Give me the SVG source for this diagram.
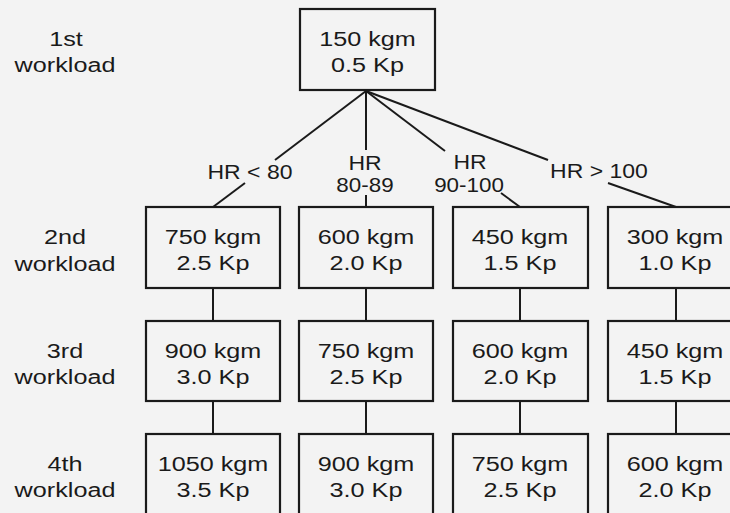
<svg xmlns="http://www.w3.org/2000/svg" width="730" height="513" viewBox="0 0 730 513">
<style>
.bg{fill:#f3f3f3}
.box{fill:#f3f3f3;stroke:#1a1a1a;stroke-width:2.2}
.ln{stroke:#1a1a1a;stroke-width:2;fill:none}
text{font-family:"Liberation Sans",Arial,sans-serif;font-size:21px;fill:#1a1a1a;text-anchor:middle}
text.hr{font-size:20px}
</style>
<rect class="bg" x="0" y="0" width="730" height="513"/>
<g id="connectors">
<line class="ln" x1="366" y1="91" x2="275" y2="160"/>
<line class="ln" x1="245" y1="183" x2="213" y2="207"/>
<line class="ln" x1="366" y1="91" x2="366" y2="150"/>
<line class="ln" x1="366" y1="195" x2="366" y2="207"/>
<line class="ln" x1="366" y1="91" x2="445" y2="151"/>
<line class="ln" x1="501" y1="193" x2="520" y2="207"/>
<line class="ln" x1="366" y1="91" x2="548" y2="160"/>
<line class="ln" x1="608" y1="183" x2="676" y2="207"/>
<line class="ln" x1="213" y1="288" x2="213" y2="321"/>
<line class="ln" x1="366" y1="288" x2="366" y2="321"/>
<line class="ln" x1="520" y1="288" x2="520" y2="321"/>
<line class="ln" x1="676" y1="288" x2="676" y2="321"/>
<line class="ln" x1="213" y1="401" x2="213" y2="434"/>
<line class="ln" x1="366" y1="401" x2="366" y2="434"/>
<line class="ln" x1="520" y1="401" x2="520" y2="434"/>
<line class="ln" x1="676" y1="401" x2="676" y2="434"/>
</g>
<g id="labels-hr">
<text class="hr" transform="translate(250,179) scale(1.15,1)">HR &lt; 80</text>
<text class="hr" transform="translate(365,170) scale(1.15,1)">HR</text>
<text class="hr" transform="translate(365,192) scale(1.12,1)">80-89</text>
<text class="hr" transform="translate(470,169) scale(1.15,1)">HR</text>
<text class="hr" transform="translate(469,192) scale(1.12,1)">90-100</text>
<text class="hr" transform="translate(599,178) scale(1.15,1)">HR &gt; 100</text>
</g>
<g id="row-labels">
<text transform="translate(66,46) scale(1.2,1)">1st</text>
<text transform="translate(65,72) scale(1.2,1)">workload</text>
<text transform="translate(65,244) scale(1.2,1)">2nd</text>
<text transform="translate(65,271) scale(1.2,1)">workload</text>
<text transform="translate(65,358) scale(1.2,1)">3rd</text>
<text transform="translate(65,384) scale(1.2,1)">workload</text>
<text transform="translate(65,471) scale(1.2,1)">4th</text>
<text transform="translate(65,497) scale(1.2,1)">workload</text>
</g>
<g id="n1">
<rect class="box" x="300" y="9" width="135" height="81"/>
<text transform="translate(367.5,46) scale(1.2,1)">150 kgm</text>
<text transform="translate(367.5,72) scale(1.2,1)">0.5 Kp</text>
</g>
<g id="n2a">
<rect class="box" x="146" y="207" width="134" height="81"/>
<text transform="translate(213,244) scale(1.2,1)">750 kgm</text>
<text transform="translate(213,270) scale(1.2,1)">2.5 Kp</text>
</g>
<g id="n2b">
<rect class="box" x="299" y="207" width="134" height="81"/>
<text transform="translate(366,244) scale(1.2,1)">600 kgm</text>
<text transform="translate(366,270) scale(1.2,1)">2.0 Kp</text>
</g>
<g id="n2c">
<rect class="box" x="453" y="207" width="135" height="81"/>
<text transform="translate(520,244) scale(1.2,1)">450 kgm</text>
<text transform="translate(520,270) scale(1.2,1)">1.5 Kp</text>
</g>
<g id="n2d">
<rect class="box" x="608" y="207" width="134" height="81"/>
<text transform="translate(675,244) scale(1.2,1)">300 kgm</text>
<text transform="translate(675,270) scale(1.2,1)">1.0 Kp</text>
</g>
<g id="n3a">
<rect class="box" x="146" y="321" width="134" height="80"/>
<text transform="translate(213,358) scale(1.2,1)">900 kgm</text>
<text transform="translate(213,384) scale(1.2,1)">3.0 Kp</text>
</g>
<g id="n3b">
<rect class="box" x="299" y="321" width="134" height="80"/>
<text transform="translate(366,358) scale(1.2,1)">750 kgm</text>
<text transform="translate(366,384) scale(1.2,1)">2.5 Kp</text>
</g>
<g id="n3c">
<rect class="box" x="453" y="321" width="135" height="80"/>
<text transform="translate(520,358) scale(1.2,1)">600 kgm</text>
<text transform="translate(520,384) scale(1.2,1)">2.0 Kp</text>
</g>
<g id="n3d">
<rect class="box" x="608" y="321" width="134" height="80"/>
<text transform="translate(675,358) scale(1.2,1)">450 kgm</text>
<text transform="translate(675,384) scale(1.2,1)">1.5 Kp</text>
</g>
<g id="n4a">
<rect class="box" x="146" y="434" width="134" height="85"/>
<text transform="translate(213,471) scale(1.2,1)">1050 kgm</text>
<text transform="translate(213,497) scale(1.2,1)">3.5 Kp</text>
</g>
<g id="n4b">
<rect class="box" x="299" y="434" width="134" height="85"/>
<text transform="translate(366,471) scale(1.2,1)">900 kgm</text>
<text transform="translate(366,497) scale(1.2,1)">3.0 Kp</text>
</g>
<g id="n4c">
<rect class="box" x="453" y="434" width="135" height="85"/>
<text transform="translate(520,471) scale(1.2,1)">750 kgm</text>
<text transform="translate(520,497) scale(1.2,1)">2.5 Kp</text>
</g>
<g id="n4d">
<rect class="box" x="608" y="434" width="134" height="85"/>
<text transform="translate(675,471) scale(1.2,1)">600 kgm</text>
<text transform="translate(675,497) scale(1.2,1)">2.0 Kp</text>
</g>
</svg>
